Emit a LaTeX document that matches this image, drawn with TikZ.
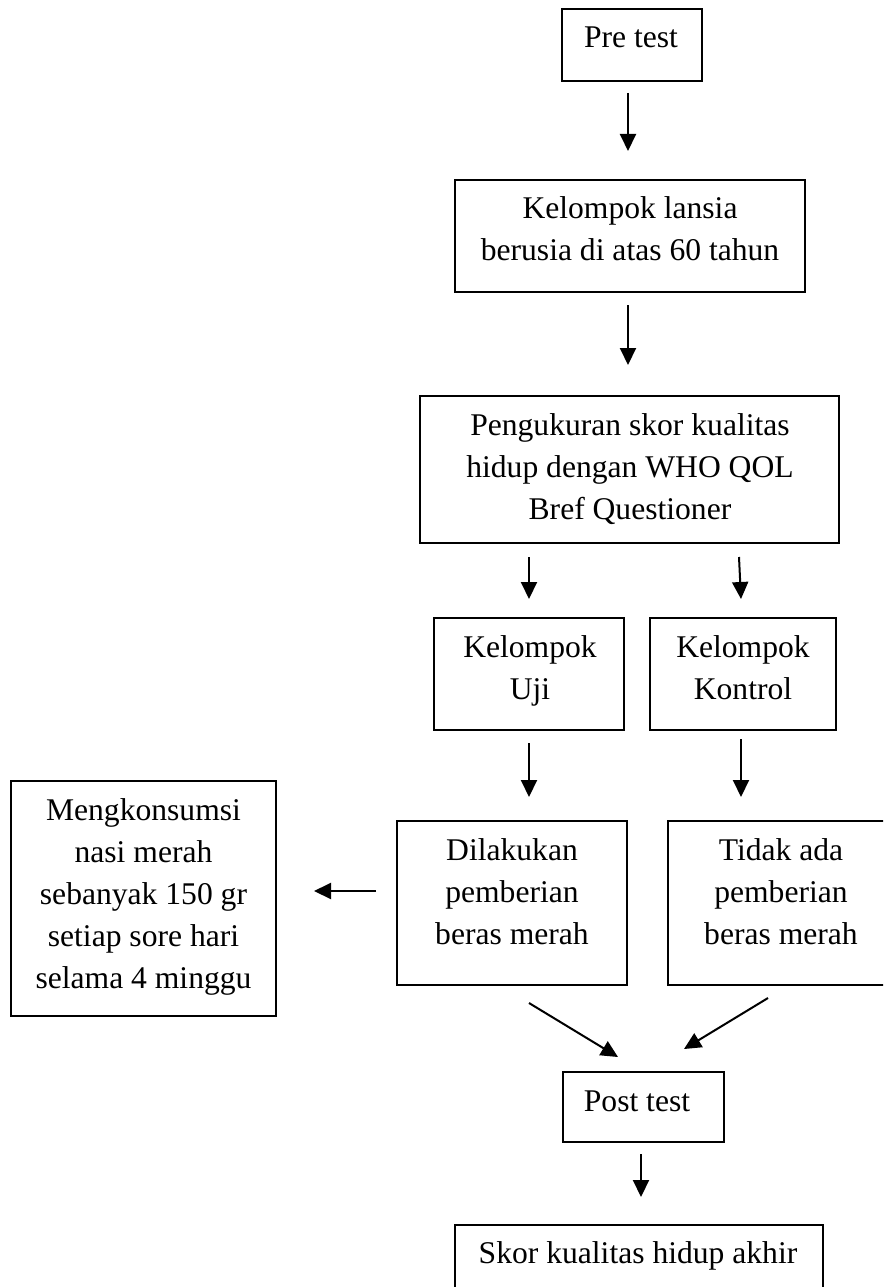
\documentclass[tikz,border=0pt]{standalone}
\usepackage{fontspec}
\setmainfont{Liberation Serif}
\usetikzlibrary{arrows.meta}
\newcommand{\mline}[1]{\begin{tabular}[t]{@{}c@{}}#1\end{tabular}}
\begin{document}
\begin{tikzpicture}[x=1pt,y=-1pt,
  box/.style={draw=black,line width=1.3pt,inner sep=0pt,fill=none},
  txt/.style={anchor=base,inner sep=0pt,font=\fontsize{31.6}{42}\selectfont},
  arr/.style={line width=2pt,-{Triangle[length=17pt,width=16pt]}}]
\useasboundingbox (0,0) rectangle (883,1287);
\clip (0,0) rectangle (883,1287);
\fill[white] (0,0) rectangle (883,1287);
% boxes
\node[box,minimum width=140pt,minimum height=72pt] (pre) at (632,45) {};
\node[box,minimum width=350pt,minimum height=112pt] (lansia) at (630,236) {};
\node[box,minimum width=419pt,minimum height=147pt] (peng) at (629.5,469.5) {};
\node[box,minimum width=190pt,minimum height=112pt] (uji) at (529,674) {};
\node[box,minimum width=186pt,minimum height=112pt] (kontrol) at (743,674) {};
\node[box,minimum width=230pt,minimum height=164pt] (dil) at (512,903) {};
\node[box,minimum width=226pt,minimum height=164pt] (tidak) at (781,903) {};
\node[box,minimum width=265pt,minimum height=235pt] (mengk) at (143.5,898.5) {};
\node[box,minimum width=161pt,minimum height=70pt] (post) at (643.5,1107) {};
\node[box,minimum width=368pt,minimum height=69pt] (skor) at (639,1259.5) {};
% texts
\node[txt] (pre-t) at (631,48) {Pre test};
\node[txt] (lansia-t) at (630,218) {\mline{Kelompok lansia\\berusia di atas 60 tahun}};
\node[txt] (peng-t) at (630,435) {\mline{Pengukuran skor kualitas\\hidup dengan WHO QOL\\Bref Questioner}};
\node[txt] (uji-t) at (530,657) {\mline{Kelompok\\Uji}};
\node[txt] (kontrol-t) at (743,657) {\mline{Kelompok\\Kontrol}};
\node[txt] (dil-t) at (512,860) {\mline{Dilakukan\\pemberian\\beras merah}};
\node[txt] (tidak-t) at (781,860) {\mline{Tidak ada\\pemberian\\beras merah}};
\node[txt] (mengk-t) at (143.5,820) {\mline{Mengkonsumsi\\nasi merah\\sebanyak 150 gr\\setiap sore hari\\selama 4 minggu}};
\node[txt] (post-t) at (637,1111) {Post test};
\node[txt] (skor-t) at (638,1263) {Skor kualitas hidup akhir};
% connector end points
\coordinate (a1s) at (628,93);   \coordinate (a1e) at (628,151);
\coordinate (a2s) at (628,305);  \coordinate (a2e) at (628,365);
\coordinate (a3s) at (529,557);  \coordinate (a3e) at (529,599);
\coordinate (a4s) at (739,557);  \coordinate (a4e) at (741,599);
\coordinate (a5s) at (529,743);  \coordinate (a5e) at (529,797);
\coordinate (a6s) at (741,739);  \coordinate (a6e) at (741,797);
\coordinate (a7s) at (376,891);  \coordinate (a7e) at (314,891);
\coordinate (a8s) at (529,1003); \coordinate (a8e) at (618,1057);
\coordinate (a9s) at (768,998);  \coordinate (a9e) at (684,1049);
\coordinate (a10s) at (641,1154); \coordinate (a10e) at (641,1197);
\draw[arr] (a1s) -- (a1e);
\draw[arr] (a2s) -- (a2e);
\draw[arr] (a3s) -- (a3e);
\draw[arr] (a4s) -- (a4e);
\draw[arr] (a5s) -- (a5e);
\draw[arr] (a6s) -- (a6e);
\draw[arr] (a7s) -- (a7e);
\draw[arr] (a8s) -- (a8e);
\draw[arr] (a9s) -- (a9e);
\draw[arr] (a10s) -- (a10e);
\end{tikzpicture}
\end{document}
